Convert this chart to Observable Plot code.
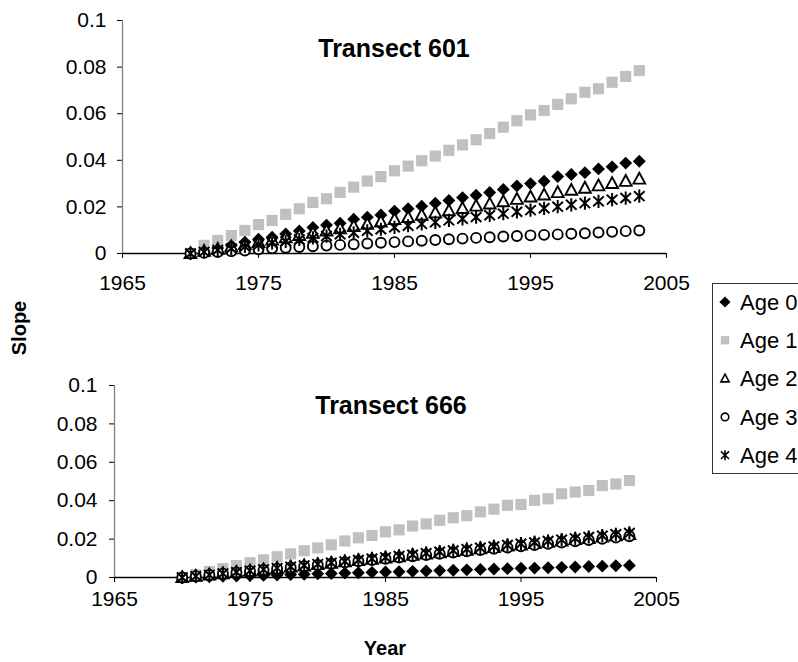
<!DOCTYPE html>
<html><head><meta charset="utf-8">
<script src="https://cdn.jsdelivr.net/npm/d3@7"></script>
<script src="https://cdn.jsdelivr.net/npm/@observablehq/plot@0.6"></script>
<style>
body{margin:0;background:#fff;}
#wrap{position:relative;width:798px;height:662px;overflow:hidden;font-family:Arial,"Liberation Sans",sans-serif;color:#000;background:#fff;}
.abs{position:absolute;}
.title{font-weight:bold;font-size:25px;white-space:nowrap;transform:translate(-50%,-50%);}
.lab{font-weight:bold;font-size:20px;white-space:nowrap;transform:translate(-50%,-50%);}
</style></head><body>
<div id="wrap">
  <div id="top" class="abs" style="left:0;top:0"></div>
  <div id="bottom" class="abs" style="left:0;top:330px"></div>
  <div class="abs title" style="left:394px;top:48px">Transect 601</div>
  <div class="abs title" style="left:391px;top:405px">Transect 666</div>
  <div class="abs lab" style="left:19px;top:328px;transform:translate(-50%,-50%) rotate(-90deg)">Slope</div>
  <div class="abs lab" style="left:385px;top:648px">Year</div>
  <div id="legend" class="abs" style="left:712px;top:283px"></div>
</div>
<script>
const years = [1970,1971,1972,1973,1974,1975,1976,1977,1978,1979,1980,1981,1982,1983,1984,1985,1986,1987,1988,1989,1990,1991,1992,1993,1994,1995,1996,1997,1998,1999,2000,2001,2002,2003];
const ages = ["Age 0","Age 1","Age 2","Age 3","Age 4"];
const xTicks = [1965,1975,1985,1995,2005];
const yTicks = [0,0.02,0.04,0.06,0.08,0.1];
const titles = ["Transect 601","Transect 666"];

const t601_age0 = [0,0.0012,0.0024,0.0035,0.0049,0.0061,0.0070,0.0084,0.0097,0.0112,0.0122,0.0130,0.0147,0.0156,0.0165,0.0182,0.0192,0.0203,0.0216,0.0228,0.0240,0.0250,0.0262,0.0275,0.0290,0.0300,0.0310,0.0330,0.0339,0.0347,0.0363,0.0372,0.0388,0.0396];
const t601_age1 = [0,0.0035,0.0056,0.0077,0.0099,0.0124,0.0142,0.0168,0.0192,0.0219,0.0235,0.0262,0.0285,0.0311,0.0330,0.0355,0.0375,0.0398,0.0418,0.0443,0.0466,0.0488,0.0515,0.0542,0.0570,0.0595,0.0614,0.0640,0.0664,0.0692,0.0707,0.0735,0.0760,0.0785];
const t601_age2 = [0,0.0010,0.0019,0.0029,0.0039,0.0048,0.0058,0.0068,0.0078,0.0087,0.0097,0.0107,0.0116,0.0126,0.0136,0.0146,0.0155,0.0165,0.0175,0.0184,0.0194,0.0204,0.0213,0.0223,0.0233,0.0243,0.0252,0.0262,0.0272,0.0281,0.0291,0.0301,0.0310,0.0320];
const t601_age3 = [0,0.0003,0.0006,0.0010,0.0013,0.0018,0.0022,0.0025,0.0028,0.0031,0.0034,0.0037,0.0040,0.0043,0.0046,0.0049,0.0052,0.0055,0.0058,0.0061,0.0064,0.0067,0.0070,0.0073,0.0075,0.0078,0.0080,0.0082,0.0085,0.0087,0.0090,0.0093,0.0096,0.0099];
const t601_age4 = [0,0.0007,0.0015,0.0022,0.0030,0.0037,0.0045,0.0052,0.0060,0.0067,0.0075,0.0082,0.0089,0.0097,0.0104,0.0112,0.0119,0.0127,0.0134,0.0142,0.0149,0.0156,0.0164,0.0171,0.0179,0.0186,0.0194,0.0201,0.0209,0.0216,0.0224,0.0231,0.0238,0.0246];

const t666_age0 = [0,0.0002,0.0004,0.0006,0.0008,0.0010,0.0011,0.0013,0.0015,0.0017,0.0019,0.0021,0.0023,0.0025,0.0027,0.0029,0.0030,0.0032,0.0034,0.0036,0.0038,0.0040,0.0042,0.0044,0.0046,0.0048,0.0049,0.0051,0.0053,0.0055,0.0057,0.0059,0.0061,0.0063];
const t666_age1 = [0,0.0015,0.0031,0.0046,0.0062,0.0077,0.0092,0.0108,0.0123,0.0139,0.0154,0.0170,0.0190,0.0207,0.0219,0.0238,0.0248,0.0268,0.0279,0.0298,0.0311,0.0322,0.0342,0.0356,0.0376,0.0380,0.0402,0.0410,0.0436,0.0445,0.0453,0.0479,0.0487,0.0505];
const t666_age2 = [0,0.0007,0.0014,0.0020,0.0027,0.0034,0.0041,0.0048,0.0055,0.0061,0.0068,0.0075,0.0082,0.0089,0.0095,0.0102,0.0109,0.0116,0.0123,0.0129,0.0136,0.0143,0.0150,0.0157,0.0164,0.0170,0.0177,0.0184,0.0191,0.0198,0.0204,0.0211,0.0218,0.0225];
const t666_age3 = [0,0.0007,0.0013,0.0020,0.0026,0.0033,0.0039,0.0046,0.0052,0.0059,0.0065,0.0072,0.0078,0.0085,0.0091,0.0098,0.0104,0.0111,0.0117,0.0124,0.0130,0.0137,0.0143,0.0150,0.0156,0.0163,0.0169,0.0176,0.0182,0.0189,0.0195,0.0202,0.0208,0.0215];
const t666_age4 = [0,0.0007,0.0014,0.0021,0.0028,0.0035,0.0042,0.0049,0.0056,0.0063,0.0070,0.0077,0.0084,0.0091,0.0098,0.0105,0.0112,0.0119,0.0127,0.0134,0.0141,0.0148,0.0155,0.0162,0.0169,0.0176,0.0183,0.0190,0.0197,0.0204,0.0211,0.0218,0.0225,0.0232];

// Excel-like star marker: vertical bar + X
const starSymbol = {
  draw(ctx, size) {
    const r = Math.sqrt(size / Math.PI);
    ctx.moveTo(0, -r); ctx.lineTo(0, r);
    const a = r * 0.8, b = r * 0.75;
    ctx.moveTo(-a, -b); ctx.lineTo(a, b);
    ctx.moveTo(-a, b); ctx.lineTo(a, -b);
  }
};
// Excel-like triangle: base at bottom, apex at top, roughly equilateral
const triSymbol = {
  draw(ctx, size) {
    const r = Math.sqrt(size / Math.PI);
    ctx.moveTo(0, -r);
    ctx.lineTo(r * 0.95, r * 0.75);
    ctx.lineTo(-r * 0.95, r * 0.75);
    ctx.closePath();
  }
};
const markerStyles = [
  {symbol: "diamond2", fill: "black", stroke: "none", r: 5.8},
  {symbol: "square", fill: "#c0c0c0", stroke: "none", r: 6.3},
  {symbol: triSymbol, fill: "white", stroke: "black", strokeWidth: 1.9, r: 6.2},
  {symbol: "circle", fill: "white", stroke: "black", strokeWidth: 1.9, r: 5.0},
  {symbol: starSymbol, fill: "none", stroke: "black", strokeWidth: 2, r: 6.6}
];

function series(list) {
  return list.map(vals => years.map((y, i) => ({year: y, value: vals[i]})));
}
const panel601 = series([t601_age0, t601_age1, t601_age2, t601_age3, t601_age4]);
const panel666 = series([t666_age0, t666_age1, t666_age2, t666_age3, t666_age4]);

function makePanel(data, opts) {
  return Plot.plot({
    width: 700,
    height: opts.height,
    marginLeft: opts.left,
    marginRight: 700 - opts.right,
    marginTop: opts.top,
    marginBottom: opts.bottom,
    style: {fontFamily: "Arial, 'Liberation Sans', sans-serif", fontSize: "21px", color: "black", background: "white", overflow: "visible"},
    x: {domain: [1965, 2005]},
    y: {domain: [0, 0.1]},
    marks: [
      Plot.axisY({ticks: yTicks, tickSize: 5, tickPadding: opts.yPad, tickFormat: d => String(+d.toFixed(2)), label: null}),
      Plot.axisX({ticks: xTicks, tickSize: 5, tickPadding: opts.xPad, tickFormat: d => String(d), label: null}),
      Plot.ruleX([1965], {stroke: "#808080", strokeWidth: 1.3}),
      Plot.ruleY([0], {stroke: "black", strokeWidth: 1.3}),
      ...data.map((d, i) => Plot.dot(d, {x: "year", y: "value", ...markerStyles[i]}))
    ]
  });
}

document.getElementById("top").append(makePanel(panel601, {height: 300, left: 122, right: 666, top: 20, bottom: 47, yPad: 11, xPad: 17}));
document.getElementById("bottom").append(makePanel(panel666, {height: 290, left: 114, right: 656, top: 55, bottom: 43, yPad: 12, xPad: 9}));

// Legend
const lw = 100, lh = 191;
const lsvg = d3.create("svg").attr("width", lw).attr("height", lh)
  .style("font-family", "Arial, 'Liberation Sans', sans-serif").style("overflow", "visible");
lsvg.append("rect").attr("x", 0.5).attr("y", 0.5).attr("width", lw).attr("height", lh - 1)
  .attr("fill", "white").attr("stroke", "#333");
const legSyms = [d3.symbolDiamond2, d3.symbolSquare, triSymbol, d3.symbolCircle, starSymbol];
const legSizes = [80, 70, 60, 45, 80];
ages.forEach((a, i) => {
  const cy = 19 + i * 38.3;
  const m = markerStyles[i];
  lsvg.append("path").attr("transform", `translate(13,${cy})`)
    .attr("d", d3.symbol(legSyms[i], legSizes[i])())
    .attr("fill", m.fill).attr("stroke", m.stroke).attr("stroke-width", m.strokeWidth ? 1.6 : 0);
  lsvg.append("text").attr("x", 28).attr("y", cy).attr("dy", "0.35em")
    .attr("font-size", 22).text(a);
});
document.getElementById("legend").append(lsvg.node());
</script>
</body></html>
